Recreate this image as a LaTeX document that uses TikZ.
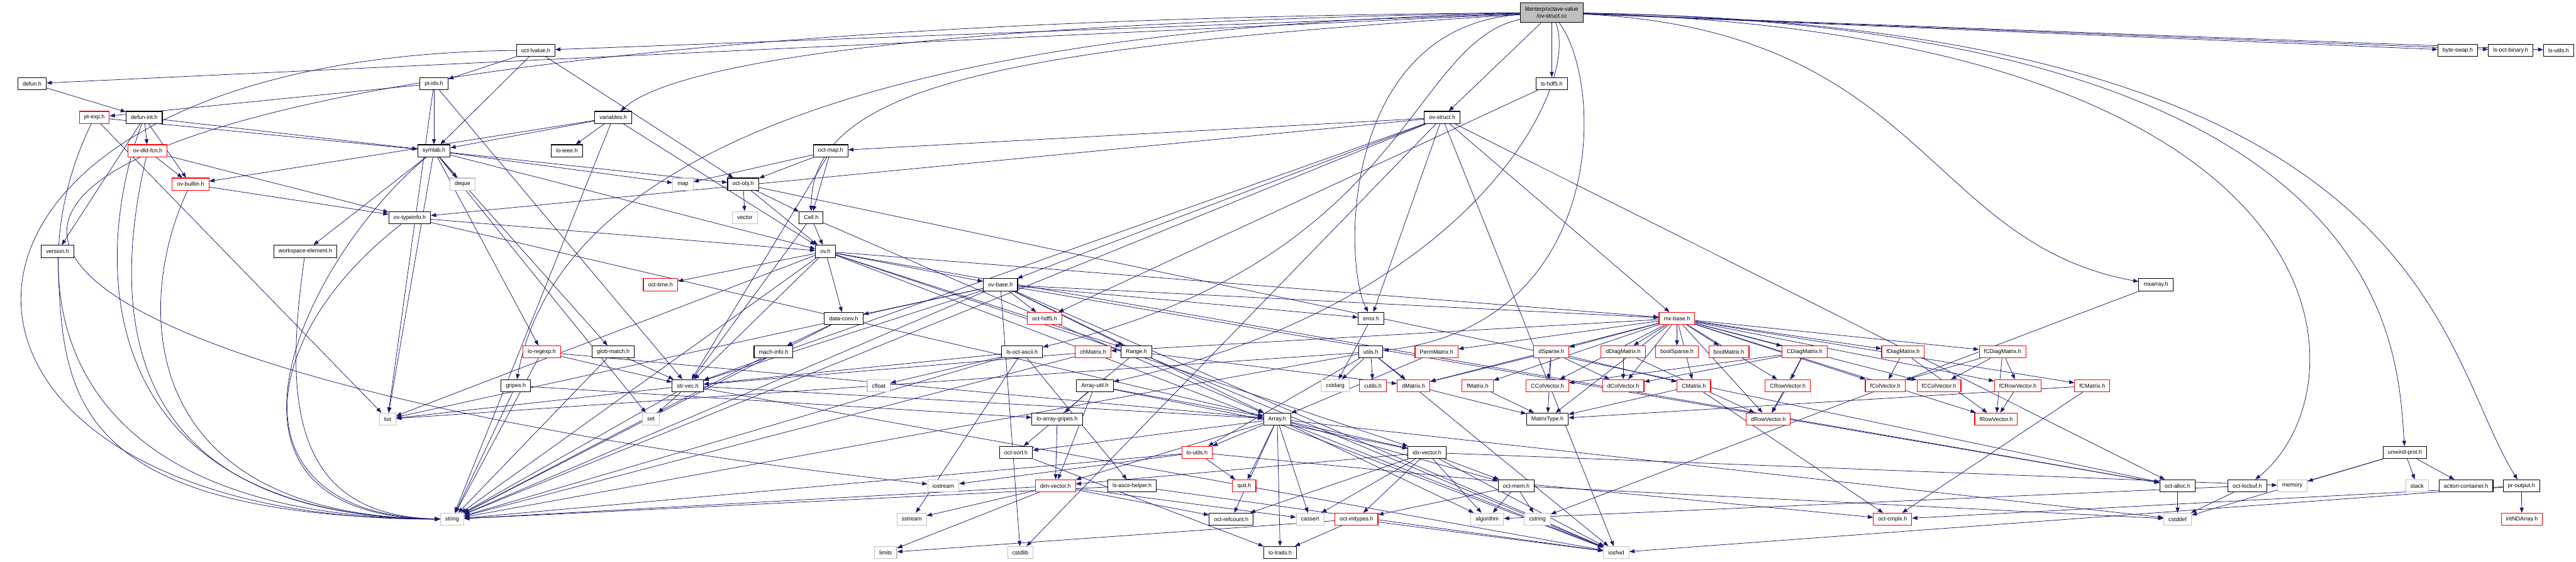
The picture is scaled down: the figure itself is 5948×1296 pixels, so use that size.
\documentclass[tikz,border=0pt]{standalone}
\usepackage{fontspec}
\setmainfont{Liberation Sans}
\usetikzlibrary{arrows.meta}
\pgfdeclarelayer{back}
\pgfsetlayers{back,main}
\definecolor{edgeblue}{HTML}{191970}
\definecolor{sysgray}{HTML}{BFBFBF}

\begin{document}
\begin{tikzpicture}[
    x=0.5pt, y=0.5pt,
    font=\fontsize{6.5}{8}\selectfont,
    box/.style={draw=black, fill=white, line width=0.8pt, rectangle, minimum height=14pt, inner xsep=5.5pt, inner ysep=0pt},
    redbox/.style={box, draw=red},
    sysbox/.style={box, draw=sysgray},
    rootbox/.style={box, fill=sysgray, minimum height=23pt, align=center},
    link/.style={-{Triangle[length=6pt,width=4.5pt]}, draw=edgeblue, line width=0.55pt}
]
\useasboundingbox (0,0) rectangle (5948,-1296);

\node[rootbox] (root) at (3583,-29) {libinterp/octave-value\\/ov-struct.cc};

\node[box] (octlvalue) at (1237,-116) {oct-lvalue.h};
\node[box] (byteswap) at (5675,-116) {byte-swap.h};
\node[box] (lsoctbinary) at (5797,-116) {ls-oct-binary.h};
\node[box] (lsutils) at (5908,-116) {ls-utils.h};

\node[box] (defun) at (74,-193) {defun.h};
\node[box] (ptidx) at (1002,-193) {pt-idx.h};
\node[box] (lshdf5) at (3583,-193) {ls-hdf5.h};

\node[redbox] (ptexp) at (218,-271) {pt-exp.h};
\node[box] (defunint) at (333,-271) {defun-int.h};
\node[box] (variables) at (1416,-271) {variables.h};
\node[box] (ovstructh) at (3330,-271) {ov-struct.h};

\node[redbox] (ovdldfcn) at (341,-348) {ov-dld-fcn.h};
\node[box] (symtab) at (1002,-348) {symtab.h};
\node[box] (loieee) at (1309,-348) {lo-ieee.h};
\node[box] (octmap) at (1918,-348) {oct-map.h};

\node[redbox] (ovbuiltin) at (440,-425) {ov-builtin.h};
\node[sysbox] (deque) at (1068,-425) {deque};
\node[sysbox] (map) at (1577,-425) {map};
\node[box] (octobj) at (1716,-425) {oct-obj.h};

\node[box] (ovtypeinfo) at (946,-502) {ov-typeinfo.h};
\node[sysbox] (vector) at (1720,-502) {vector};
\node[box] (cellh) at (1873,-502) {Cell.h};

\node[box] (version) at (133,-580) {version.h};
\node[box] (workspace) at (705,-580) {workspace-element.h};
\node[box] (ovh) at (1906,-580) {ov.h};

\node[redbox] (octtime) at (1525,-657) {oct-time.h};
\node[box] (ovbase) at (2310,-657) {ov-base.h};
\node[box] (mxarray) at (4978,-657) {mxarray.h};

\node[box] (dataconv) at (1948,-735) {data-conv.h};
\node[redbox] (octhdf5) at (2412,-735) {oct-hdf5.h};
\node[box] (errorh) at (3166,-735) {error.h};
\node[redbox] (mxbase) at (3872,-735) {mx-base.h};

\node[redbox] (loregexp) at (1251,-812) {lo-regexp.h};
\node[box] (globmatch) at (1416,-812) {glob-match.h};
\node[box] (machinfo) at (1786,-812) {mach-info.h};
\node[box] (lsoctascii) at (2360,-812) {ls-oct-ascii.h};
\node[redbox] (chmatrix) at (2524,-812) {chMatrix.h};
\node[box] (rangeh) at (2624,-812) {Range.h};
\node[box] (utils) at (3165,-812) {utils.h};
\node[redbox] (permmatrix) at (3317,-812) {PermMatrix.h};
\node[redbox] (dsparse) at (3582,-812) {dSparse.h};
\node[redbox] (ddiagmatrix) at (3748,-812) {dDiagMatrix.h};
\node[redbox] (boolsparse) at (3872,-812) {boolSparse.h};
\node[redbox] (boolmatrix) at (3992,-812) {boolMatrix.h};
\node[redbox] (cdiagmatrix) at (4167,-812) {CDiagMatrix.h};
\node[redbox] (fdiagmatrix) at (4394,-812) {fDiagMatrix.h};
\node[redbox] (fcdiagmatrix) at (4624,-812) {fCDiagMatrix.h};

\node[box] (gripes) at (1191,-890) {gripes.h};
\node[box] (strvec) at (1588,-890) {str-vec.h};
\node[sysbox] (cfloat) at (2029,-890) {cfloat};
\node[box] (arrayutil) at (2528,-890) {Array-util.h};
\node[sysbox] (cstdarg) at (3083,-890) {cstdarg};
\node[redbox] (cutils) at (3170,-890) {cutils.h};
\node[redbox] (dmatrix) at (3264,-890) {dMatrix.h};
\node[redbox] (fmatrix) at (3412,-890) {fMatrix.h};
\node[redbox] (ccolvector) at (3573,-890) {CColVector.h};
\node[redbox] (dcolvector) at (3748,-890) {dColVector.h};
\node[redbox] (cmatrix) at (3911,-890) {CMatrix.h};
\node[redbox] (crowvector) at (4128,-890) {CRowVector.h};
\node[redbox] (fcolvector) at (4353,-890) {fColVector.h};
\node[redbox] (fccolvector) at (4477,-890) {fCColVector.h};
\node[redbox] (fcrowvector) at (4659,-890) {fCRowVector.h};
\node[redbox] (fcmatrix) at (4831,-890) {fCMatrix.h};

\node[sysbox] (list) at (895,-967) {list};
\node[sysbox] (set) at (1503,-967) {set};
\node[box] (loarraygripes) at (2441,-967) {lo-array-gripes.h};
\node[box] (array) at (2949,-967) {Array.h};
\node[box] (matrixtype) at (3573,-967) {MatrixType.h};
\node[redbox] (drowvector) at (4083,-967) {dRowVector.h};
\node[redbox] (frowvector) at (4609,-967) {fRowVector.h};

\node[box] (octsort) at (2346,-1044) {oct-sort.h};
\node[redbox] (loutils) at (2764,-1044) {lo-utils.h};
\node[box] (idxvector) at (3295,-1044) {idx-vector.h};
\node[box] (unwindprot) at (5553,-1044) {unwind-prot.h};

\node[sysbox] (iostream) at (2178,-1121) {iostream};
\node[redbox] (dimvector) at (2437,-1121) {dim-vector.h};
\node[box] (lsasciihelper) at (2614,-1121) {ls-ascii-helper.h};
\node[redbox] (quit) at (2873,-1121) {quit.h};
\node[box] (octmem) at (3501,-1121) {oct-mem.h};
\node[box] (octalloc) at (5028,-1121) {oct-alloc.h};
\node[box] (octlocbuf) at (5189,-1121) {oct-locbuf.h};
\node[sysbox] (memory) at (5293,-1121) {memory};
\node[sysbox] (stack) at (5581,-1121) {stack};
\node[box] (actioncontainer) at (5694,-1121) {action-container.h};
\node[box] (proutput) at (5822,-1121) {pr-output.h};

\node[sysbox] (string) at (1044,-1198) {string};
\node[sysbox] (sstream) at (2105,-1198) {sstream};
\node[box] (octrefcount) at (2843,-1198) {oct-refcount.h};
\node[sysbox] (cassert) at (3025,-1198) {cassert};
\node[redbox] (octinttypes) at (3132,-1198) {oct-inttypes.h};
\node[sysbox] (algorithm) at (3434,-1198) {algorithm};
\node[sysbox] (cstring) at (3550,-1198) {cstring};
\node[redbox] (octcmplx) at (4370,-1198) {oct-cmplx.h};
\node[sysbox] (cstddef) at (5028,-1198) {cstddef};
\node[redbox] (intndarray) at (5823,-1198) {intNDArray.h};

\node[sysbox] (limits) at (2045,-1275) {limits};
\node[sysbox] (cstdlib) at (2356,-1275) {cstdlib};
\node[box] (lotraits) at (2956,-1275) {lo-traits.h};
\node[sysbox] (iosfwd) at (3732,-1275) {iosfwd};

\begin{pgfonlayer}{back}
\draw[link] (root) -- (defun);
\draw[link] (root) -- (octlvalue);
\draw[link] (root) .. controls (2500,-45) and (1600,-110) .. (variables);
\draw[link] (root) .. controls (2200,-60) and (1300,-300) .. (gripes);
\draw[link] (root) .. controls (2300,-110) and (1873,-200) .. (cellh);
\draw[link] (root) .. controls (-700,-60) and (-700,-800) .. (iostream);
\draw[link] (root) -- (ovstructh);
\draw[link] (root) -- (lshdf5);
\draw[link] (root) -- (byteswap);
\draw[link] (root) -- (lsoctbinary);
\draw[link] (root) -- (lsutils);
\draw[link] (root) .. controls (5466,-80) and (5466,-900) .. (octlocbuf);
\draw[link] (root) .. controls (5535,-60) and (5535,-800) .. (unwindprot);
\draw[link] (root) .. controls (5621,-60) and (5621,-800) .. (proutput);
\draw[link] (root) .. controls (4445,-70) and (4445,-560) .. (mxarray);
\draw[link] (root) .. controls (3099,-60) and (3099,-600) .. (errorh);
\draw[link] (root) .. controls (3708,-200) and (3708,-750) .. (utils);
\draw[link] (root) .. controls (3650,-200) and (3400,-700) .. (arrayutil);
\draw[link] (root) .. controls (3252,-100) and (3252,-600) .. (lsoctascii);

\draw[link] (defun) -- (defunint);
\draw[link] (octlvalue) -- (ptidx);
\draw[link] (octlvalue) -- (symtab);
\draw[link] (octlvalue) -- (octobj);
\draw[link] (octlvalue) .. controls (-300,-130) and (-300,-1200) .. (string);
\draw[link] (ptidx) -- (ptexp);
\draw[link] (ptidx) -- (symtab);
\draw[link] (ptidx) -- (strvec);
\draw[link] (ptidx) -- (list);
\draw[link] (ptexp) -- (symtab);
\draw[link] (ptexp) -- (list);
\draw[link] (ptexp) .. controls (56,-600) and (56,-1190) .. (string);
\draw[link] (defunint) -- (ovdldfcn);
\draw[link] (defunint) -- (ovbuiltin);
\draw[link] (defunint) -- (symtab);
\draw[link] (defunint) -- (version);
\draw[link] (defunint) .. controls (209,-600) and (209,-1190) .. (string);
\draw[link] (ovdldfcn) -- (ovbuiltin);
\draw[link] (ovdldfcn) -- (ovtypeinfo);
\draw[link] (ovdldfcn) .. controls (259,-700) and (259,-1190) .. (string);
\draw[link] (ovbuiltin) -- (ovtypeinfo);
\draw[link] (ovbuiltin) .. controls (310,-700) and (310,-1190) .. (string);
\draw[link] (ovtypeinfo) -- (ovh);
\draw[link] (ovtypeinfo) -- (array);
\draw[link] (ovtypeinfo) .. controls (563,-800) and (563,-1190) .. (string);
\draw[link] (version) .. controls (145,-900) and (145,-1190) .. (string);
\draw[link] (workspace) .. controls (660,-900) and (660,-1190) .. (string);
\draw[link] (variables) -- (symtab);
\draw[link] (variables) -- (loieee);
\draw[link] (variables) -- (ovbuiltin);
\draw[link] (variables) -- (ovh);
\draw[link] (variables) -- (string);
\draw[link] (symtab) -- (deque);
\draw[link] (symtab) -- (map);
\draw[link] (symtab) -- (octobj);
\draw[link] (symtab) -- (ovh);
\draw[link] (symtab) .. controls (700,-600) and (420,-1190) .. (string);
\draw[link] (symtab) -- (list);
\draw[link] (symtab) -- (set);
\draw[link] (symtab) -- (globmatch);
\draw[link] (symtab) -- (loregexp);
\draw[link] (symtab) -- (workspace);
\draw[link] (octobj) -- (vector);
\draw[link] (octobj) -- (cellh);
\draw[link] (octobj) -- (ovh);
\draw[link] (octobj) -- (octalloc);
\draw[link] (octmap) -- (map);
\draw[link] (octmap) -- (octobj);
\draw[link] (octmap) -- (cellh);
\draw[link] (octmap) -- (strvec);
\draw[link] (cellh) -- (ovh);
\draw[link] (cellh) -- (array);
\draw[link] (cellh) -- (strvec);

\draw[link] (ovh) -- (octtime);
\draw[link] (ovh) -- (dataconv);
\draw[link] (ovh) -- (strvec);
\draw[link] (ovh) -- (ovbase);
\draw[link] (ovh) -- (rangeh);
\draw[link] (ovh) -- (idxvector);
\draw[link] (ovh) -- (mxbase);
\draw[link] (ovh) -- (string);
\draw[link] (ovh) -- (iosfwd);
\draw[link] (ovh) -- (list);
\draw[link] (ovh) -- (octalloc);
\draw[link] (ovbase) -- (octhdf5);
\draw[link] (ovbase) -- (rangeh);
\draw[link] (ovbase) -- (dataconv);
\draw[link] (ovbase) -- (strvec);
\draw[link] (ovbase) -- (mxbase);
\draw[link] (ovbase) -- (array);
\draw[link] (ovbase) -- (list);
\draw[link] (ovbase) -- (string);
\draw[link] (ovbase) -- (cstdlib);
\draw[link] (ovbase) -- (iosfwd);
\draw[link] (ovbase) -- (errorh);
\draw[link] (ovbase) -- (octalloc);
\draw[link] (ovstructh) -- (ovbase);
\draw[link] (ovstructh) -- (ovtypeinfo);
\draw[link] (ovstructh) -- (octmap);
\draw[link] (ovstructh) -- (strvec);
\draw[link] (ovstructh) -- (mxbase);
\draw[link] (ovstructh) -- (errorh);
\draw[link] (ovstructh) -- (octalloc);
\draw[link] (ovstructh) -- (cstdlib);
\draw[link] (ovstructh) -- (iosfwd);
\draw[link] (ovstructh) -- (string);
\draw[link] (lshdf5) -- (octhdf5);

\draw[link] (dataconv) -- (machinfo);
\draw[link] (dataconv) -- (string);
\draw[link] (machinfo) -- (string);
\draw[link] (loregexp) -- (strvec);
\draw[link] (loregexp) -- (string);
\draw[link] (loregexp) -- (array);
\draw[link] (globmatch) -- (strvec);
\draw[link] (globmatch) -- (string);
\draw[link] (gripes) -- (loarraygripes);
\draw[link] (gripes) -- (string);
\draw[link] (strvec) -- (set);
\draw[link] (strvec) -- (string);
\draw[link] (strvec) -- (array);
\draw[link] (strvec) -- (list);
\draw[link] (strvec) -- (iosfwd);
\draw[link] (lsoctascii) -- (cfloat);
\draw[link] (lsoctascii) -- (sstream);
\draw[link] (lsoctascii) -- (lsasciihelper);
\draw[link] (lsoctascii) -- (string);
\draw[link] (lsoctascii) -- (strvec);
\draw[link] (chmatrix) -- (strvec);
\draw[link] (chmatrix) -- (string);
\draw[link] (rangeh) -- (dmatrix);
\draw[link] (rangeh) -- (iosfwd);
\draw[link] (rangeh) -- (octsort);
\draw[link] (arrayutil) -- (loarraygripes);
\draw[link] (arrayutil) -- (dimvector);
\draw[link] (arrayutil) -- (array);
\draw[link] (arrayutil) -- (idxvector);
\draw[link] (loarraygripes) -- (dimvector);

\draw[link] (array) -- (octsort);
\draw[link] (array) -- (loutils);
\draw[link] (array) -- (quit);
\draw[link] (array) -- (octrefcount);
\draw[link] (array) -- (lotraits);
\draw[link] (array) -- (dimvector);
\draw[link] (array) -- (idxvector);
\draw[link] (array) -- (cassert);
\draw[link] (array) -- (cstddef);
\draw[link] (array) -- (algorithm);
\draw[link] (array) -- (iosfwd);
\draw[link] (array) -- (octmem);
\draw[link] (octsort) -- (lotraits);
\draw[link] (loutils) -- (quit);
\draw[link] (loutils) -- (iostream);
\draw[link] (loutils) -- (string);
\draw[link] (loutils) -- (octcmplx);
\draw[link] (dimvector) -- (sstream);
\draw[link] (dimvector) -- (limits);
\draw[link] (dimvector) -- (octrefcount);
\draw[link] (dimvector) -- (cassert);
\draw[link] (dimvector) -- (string);
\draw[link] (lsasciihelper) -- (iosfwd);
\draw[link] (lsasciihelper) -- (string);
\draw[link] (octinttypes) -- (limits);
\draw[link] (octinttypes) -- (iosfwd);
\draw[link] (octinttypes) -- (lotraits);
\draw[link] (idxvector) -- (octinttypes);
\draw[link] (idxvector) -- (octmem);
\draw[link] (idxvector) -- (algorithm);
\draw[link] (idxvector) -- (iosfwd);
\draw[link] (idxvector) -- (cassert);
\draw[link] (idxvector) -- (dimvector);
\draw[link] (idxvector) -- (octrefcount);
\draw[link] (idxvector) -- (memory);
\draw[link] (octmem) -- (algorithm);
\draw[link] (octmem) -- (cstring);
\draw[link] (octmem) -- (octinttypes);
\draw[link] (octmem) -- (cstddef);
\draw[link] (errorh) -- (cstdarg);
\draw[link] (utils) -- (cstdarg);
\draw[link] (utils) -- (cutils);
\draw[link] (utils) -- (dmatrix);
\draw[link] (utils) -- (string);
\draw[link] (utils) -- (loutils);
\draw[link] (utils) -- (list);
\draw[link] (utils) -- (iosfwd);

\draw[link] (mxbase) -- (chmatrix);
\draw[link] (mxbase) -- (permmatrix);
\draw[link] (mxbase) -- (dsparse);
\draw[link] (mxbase) -- (ddiagmatrix);
\draw[link] (mxbase) -- (boolsparse);
\draw[link] (mxbase) -- (boolmatrix);
\draw[link] (mxbase) -- (dmatrix);
\draw[link] (mxbase) -- (fmatrix);
\draw[link] (mxbase) -- (ccolvector);
\draw[link] (mxbase) -- (dcolvector);
\draw[link] (mxbase) -- (cmatrix);
\draw[link] (mxbase) -- (cdiagmatrix);
\draw[link] (mxbase) -- (fdiagmatrix);
\draw[link] (mxbase) -- (fcdiagmatrix);
\draw[link] (mxbase) -- (crowvector);
\draw[link] (mxbase) -- (fcolvector);
\draw[link] (mxbase) -- (fccolvector);
\draw[link] (mxbase) -- (fcrowvector);
\draw[link] (mxbase) -- (fcmatrix);
\draw[link] (mxbase) -- (drowvector);
\draw[link] (mxbase) -- (frowvector);
\draw[link] (mxbase) -- (matrixtype);
\draw[link] (dsparse) -- (dmatrix);
\draw[link] (dsparse) -- (ccolvector);
\draw[link] (dsparse) -- (dcolvector);
\draw[link] (dsparse) -- (cmatrix);
\draw[link] (dsparse) -- (matrixtype);
\draw[link] (ddiagmatrix) -- (dcolvector);
\draw[link] (ddiagmatrix) -- (drowvector);
\draw[link] (cdiagmatrix) -- (crowvector);
\draw[link] (cdiagmatrix) -- (drowvector);
\draw[link] (cdiagmatrix) -- (ccolvector);
\draw[link] (cdiagmatrix) -- (dcolvector);
\draw[link] (fdiagmatrix) -- (fcolvector);
\draw[link] (fdiagmatrix) -- (frowvector);
\draw[link] (fcdiagmatrix) -- (fcolvector);
\draw[link] (fcdiagmatrix) -- (fccolvector);
\draw[link] (fcdiagmatrix) -- (fcrowvector);
\draw[link] (fcdiagmatrix) -- (frowvector);
\draw[link] (crowvector) -- (drowvector);
\draw[link] (fcrowvector) -- (frowvector);
\draw[link] (fcmatrix) -- (octcmplx);
\draw[link] (fcmatrix) -- (matrixtype);
\draw[link] (cmatrix) -- (matrixtype);
\draw[link] (cmatrix) -- (octcmplx);
\draw[link] (dmatrix) -- (matrixtype);
\draw[link] (fmatrix) -- (matrixtype);
\draw[link] (permmatrix) -- (array);

\draw[link] (mxarray) -- (cstring);
\draw[link] (octalloc) -- (cstddef);
\draw[link] (octlocbuf) -- (cstddef);
\draw[link] (octlocbuf) -- (algorithm);
\draw[link] (unwindprot) -- (memory);
\draw[link] (unwindprot) -- (cstddef);
\draw[link] (unwindprot) -- (stack);
\draw[link] (unwindprot) -- (actioncontainer);
\draw[link] (proutput) -- (intndarray);
\draw[link] (proutput) -- (iosfwd);
\draw[link] (proutput) -- (octcmplx);
\end{pgfonlayer}
\end{tikzpicture}
\end{document}
